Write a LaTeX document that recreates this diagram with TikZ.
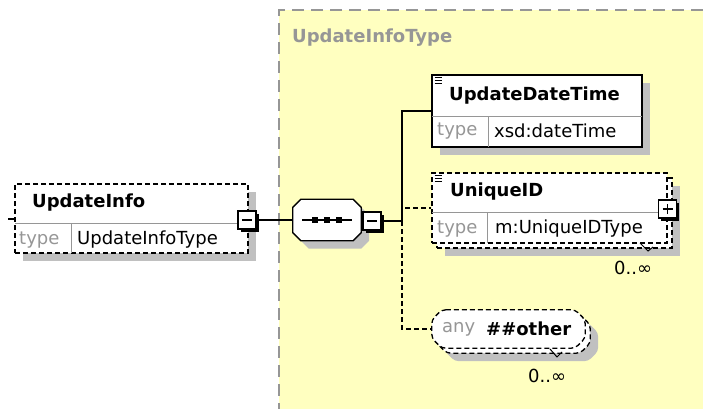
\documentclass[tikz,border=0pt]{standalone}
\usepackage{fontspec}
\setmainfont{DejaVu Sans}
\usetikzlibrary{shadows}
\definecolor{bgyellow}{RGB}{255,255,192}
\definecolor{shadegray}{RGB}{192,192,192}
\definecolor{framegray}{RGB}{150,150,150}
\definecolor{typegray}{RGB}{150,150,150}
\tikzset{
  elem/.style={draw, fill=white, line width=1.3pt, inner sep=0pt},
  shade/.style={drop shadow={shadow xshift=8pt, shadow yshift=-8pt, fill=shadegray, opacity=1}},
  optelem/.style={elem, dash pattern=on 5pt off 3pt},
  pmbox/.style={draw, fill=white, line width=1.3pt, minimum size=18pt, inner sep=0pt,
    drop shadow={shadow xshift=2.5pt, shadow yshift=-2.5pt, fill=black, opacity=1}},
  minusbox/.style={pmbox, path picture={
    \draw[line width=1.4pt] ([xshift=-5pt]path picture bounding box.center) -- ([xshift=5pt]path picture bounding box.center);}},
  plusbox/.style={pmbox, path picture={
    \draw[line width=1.4pt] ([xshift=-5pt]path picture bounding box.center) -- ([xshift=5pt]path picture bounding box.center);
    \draw[line width=1.4pt] ([yshift=-5pt]path picture bounding box.center) -- ([yshift=5pt]path picture bounding box.center);}},
  lbl/.style={anchor=west, inner sep=0pt},
  typelbl/.style={lbl, text=typegray},
  divider/.style={framegray, line width=0.9pt},
  wire/.style={line width=1.5pt},
  optwire/.style={wire, dash pattern=on 5pt off 3pt},
}
% octagon round a node: #1 node, #2 cut, #3 draw options
\newcommand{\cutbox}[3]{%
  \path[#3] ([xshift=#2]#1.north west) -- ([xshift=-#2]#1.north east) -- ([yshift=-#2]#1.north east)
    -- ([yshift=#2]#1.south east) -- ([xshift=-#2]#1.south east) -- ([xshift=#2]#1.south west)
    -- ([yshift=#2]#1.south west) -- ([yshift=-#2]#1.north west) -- cycle;}
\begin{document}
\begin{tikzpicture}[x=1pt, y=-1pt, font=\fontsize{18}{21}\selectfont]
\useasboundingbox (0,0) rectangle (703,409);

% complex type area
\fill[bgyellow] (279,10) rectangle (703,409);
\draw[framegray, line width=1.8pt, dash pattern=on 12pt off 7pt] (703,10) -- (279,10) -- (279,409);
\node[lbl, text=framegray, font=\fontsize{18}{21}\selectfont\bfseries] (ctype) at (292,38) {UpdateInfoType};

% UpdateInfo
\node[optelem, shade, minimum width=233pt, minimum height=69pt] (info) at (131.5,218.5) {};
\draw[divider] (15,223) -- (248,223);
\draw[divider] (71,223) -- (71,253);
\draw[wire] (8,219) -- (15,219);
\node[lbl, font=\fontsize{18}{21}\selectfont\bfseries] (infoname) at (32,203) {UpdateInfo};
\node[typelbl] (infotype) at (19,240) {type};
\node[lbl] (infotypename) at (77,240) {UpdateInfoType};
\node[minusbox] (infominus) at (247,220) {};

% sequence
\node[minimum width=68pt, minimum height=41pt, inner sep=0pt] (seq) at (327,220) {};
\cutbox{seq}{8pt}{fill=shadegray, transform canvas={shift={(8pt,-8pt)}}}
\cutbox{seq}{8pt}{elem}
\draw[wire] ([xshift=-25pt]seq.center) -- ([xshift=25pt]seq.center);
\foreach \dx in {-12,0,12}
  \fill ([xshift=\dx pt]seq.center) +(-3pt,-3pt) rectangle +(3pt,3pt);
\node[minusbox] (seqminus) at (372,221) {};
\coordinate (jn) at (402,221);

% UpdateDateTime
\node[elem, shade, minimum width=210pt, minimum height=72pt] (datetime) at (537,111) {};
\draw[divider] (432,116) -- (642,116);
\draw[divider] (488,116) -- (488,147);
\foreach \yy in {77.5,80.5,83.5} \draw[line width=0.9pt] (434.5,\yy) -- (442,\yy);
\node[lbl, font=\fontsize{18}{21}\selectfont\bfseries] (dtname) at (449,96) {UpdateDateTime};
\node[typelbl] (dttype) at (437,131) {type};
\node[lbl] (dttypename) at (494,131) {xsd:dateTime};

% UniqueID
\node[optelem, shade, minimum width=235pt, minimum height=70pt] (uidback) at (554.5,213) {};
\node[optelem, minimum width=235pt, minimum height=70pt] (uid) at (549.5,208) {};
\draw[divider] (432,212) -- (667,212);
\draw[divider] (487,212) -- (487,243);
\foreach \yy in {175.5,178.5,181.5} \draw[line width=0.9pt] (434.5,\yy) -- (442,\yy);
\node[lbl, font=\fontsize{18}{21}\selectfont\bfseries] (uidname) at (450,192) {UniqueID};
\node[typelbl] (uidtype) at (437,229) {type};
\node[lbl] (uidtypename) at (495,229) {m:UniqueIDType};
\node[plusbox] (uidplus) at (667.5,209) {};
\draw[line width=1pt] (640,243) -- (648,251) -- (653,247);
\node[lbl] (uidocc) at (614,268) {0..∞};

% any ##other
\node[minimum width=153pt, minimum height=38pt, inner sep=0pt] (anyback) at (513.5,334) {};
\node[minimum width=153pt, minimum height=38pt, inner sep=0pt] (any) at (508.5,329) {};
\cutbox{anyback}{10pt}{fill=shadegray, rounded corners=4pt, transform canvas={shift={(8pt,-8pt)}}}
\cutbox{anyback}{10pt}{optelem, rounded corners=4pt}
\cutbox{any}{10pt}{optelem, rounded corners=4pt}
\node[typelbl] (anyns) at (442,329) {any};
\node[lbl, font=\fontsize{18}{21}\selectfont\bfseries] (anyname) at (486,329) {\#\#other};
\draw[line width=1pt] (550,349) -- (557,357) -- (562,352);
\node[lbl] (anyocc) at (528,376) {0..∞};

% connectors
\draw[wire] (infominus) -- (seq);
\draw[wire] (seqminus) -- (jn);
\draw[wire] (jn) |- (datetime.west);
\draw[optwire] (jn) |- (uid.west);
\draw[optwire] (jn) |- (any.west);
\end{tikzpicture}
\end{document}
